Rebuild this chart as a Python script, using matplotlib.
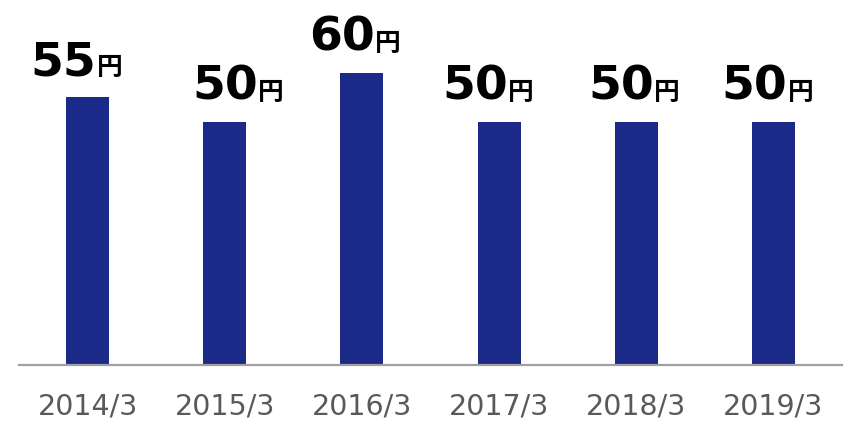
import matplotlib

matplotlib.use("Agg")
import matplotlib.pyplot as plt

# dividend per share (yen), fiscal years ending March
years = ["2014/3", "2015/3", "2016/3", "2017/3", "2018/3", "2019/3"]
dividends = [55, 50, 60, 50, 50, 50]

BAR = "#1b2a89"
AXIS = "#a0a0a0"
TICK = "#595959"
PT = 0.72  # points per pixel at dpi=100

# horizontal nudge of each value label (pixels), as laid out in the source
label_dx = [-24, 0, -20, -24, -15, -19]

fig = plt.figure(figsize=(8.45, 4.24), dpi=100, facecolor="white")
ax = fig.add_axes([0.0225, 0.1403, 0.974, 0.8597])
x = range(len(years))
ax.bar(x, dividends, width=0.313, color=BAR, zorder=2)

ax.set_xlim(-0.5, len(years) - 0.5)
ax.set_ylim(0, 75)
for s in ("top", "right", "left"):
    ax.spines[s].set_visible(False)
ax.spines["bottom"].set_color(AXIS)
ax.spines["bottom"].set_linewidth(1.6)
ax.set_yticks([])
ax.set_xticks(list(x))
ax.set_xticklabels(years, fontsize=20.5, color=TICK, family="DejaVu Sans")
ax.tick_params(axis="x", length=0, pad=20)

for i, v in enumerate(dividends):
    dx = label_dx[i]
    ax.annotate(str(v), xy=(i, v), xytext=(dx * PT, 22 * PT), textcoords="offset points",
                ha="center", va="baseline", fontsize=34, fontweight="bold",
                family="DejaVu Sans", color="black")
    ax.annotate("円", xy=(i, v), xytext=((dx + 33) * PT, 22 * PT), textcoords="offset points",
                ha="left", va="baseline", fontsize=18.5, fontweight="bold",
                family="Noto Sans CJK JP", color="black")

fig.savefig("out.png", dpi=100, facecolor="white")
